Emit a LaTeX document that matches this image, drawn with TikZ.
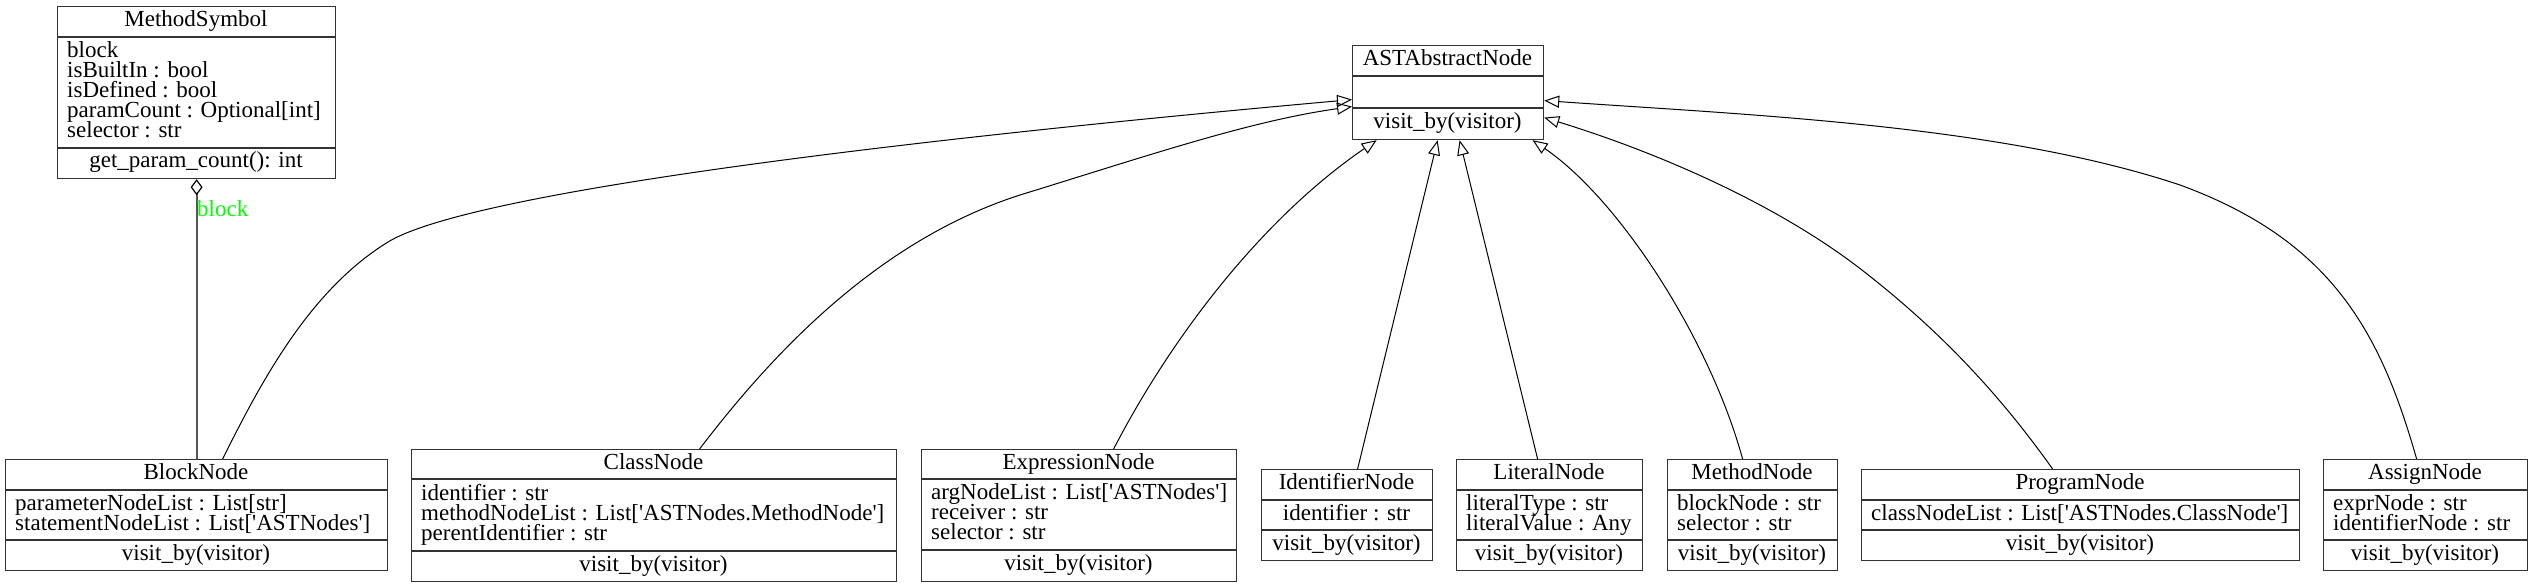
\documentclass[tikz,border=0pt]{standalone}
\usepackage{fontspec}
\setmainfont{Liberation Serif}[Ligatures=TeXOff]
\usetikzlibrary{arrows.meta}
\definecolor{boxc}{HTML}{333333}
\definecolor{aggc}{HTML}{555555}
\definecolor{lblgreen}{HTML}{00FF00}
\newcommand\sq{'}
\newcommand\umlbox[7]{%
  \node[classbox, anchor=north west, minimum width={#4-#2}, minimum height={#5-#3}] (#1) at (#2,#3) {};
  \draw[sepline] (#2,#6) -- (#4,#6);
  \draw[sepline] (#2,#7) -- (#4,#7);
}
\begin{document}
\begin{tikzpicture}[x=1pt,y=-1pt,
  classbox/.style={draw=boxc, line width=1.2pt, inner sep=0pt, fill=white},
  sepline/.style={draw=boxc, line width=1.2pt},
  txt/.style={inner sep=0pt, font=\fontsize{23}{20}\selectfont, text=black},
  inh/.style={draw=black, line width=1pt, -{Triangle[open, length=15pt, width=12pt]}},
  agg/.style={draw=aggc, line width=2pt, {Diamond[open, length=16pt, width=12pt, line width=1.2pt, color=black]}-},
  lbl/.style={inner sep=0pt, font=\fontsize{23}{20}\selectfont, text=lblgreen}
]
\fill[white] (0,0) rectangle (2534,588);
\useasboundingbox (0,0) rectangle (2534,588);

% MethodSymbol
\umlbox{ms}{57}{6}{335}{178}{37}{148}
\node[txt, anchor=base] (ms-t) at (196,27) {MethodSymbol};
\node[txt, anchor=base west] (ms-a1) at (67,57.5) {block};
\node[txt, anchor=base west] (ms-a2) at (67,77.5) {isBuiltIn : bool};
\node[txt, anchor=base west] (ms-a3) at (67,97.5) {isDefined : bool};
\node[txt, anchor=base west] (ms-a4) at (67,117.5) {paramCount : Optional[int]};
\node[txt, anchor=base west] (ms-a5) at (67,137.5) {selector : str};
\node[txt, anchor=base] (ms-m) at (196,168) {get\_param\_count(): int};

% ASTAbstractNode
\umlbox{ast}{1352}{45}{1543}{139}{76}{108}
\node[txt, anchor=base] (ast-t) at (1447.5,65.5) {ASTAbstractNode};
\node[txt, anchor=base] (ast-m) at (1447.5,128.5) {visit\_by(visitor)};

% BlockNode
\umlbox{blk}{5}{459}{387}{570}{490}{540}
\node[txt, anchor=base] (blk-t) at (196,479.5) {BlockNode};
\node[txt, anchor=base west] (blk-a1) at (15,510) {parameterNodeList : List[str]};
\node[txt, anchor=base west] (blk-a2) at (15,530) {statementNodeList : List[\sq ASTNodes\sq]};
\node[txt, anchor=base] (blk-m) at (196,560) {visit\_by(visitor)};

% ClassNode
\umlbox{cls}{411}{449}{896}{581}{479}{551}
\node[txt, anchor=base] (cls-t) at (653.5,469) {ClassNode};
\node[txt, anchor=base west] (cls-a1) at (421,500) {identifier : str};
\node[txt, anchor=base west] (cls-a2) at (421,520) {methodNodeList : List[\sq ASTNodes.MethodNode\sq]};
\node[txt, anchor=base west] (cls-a3) at (421,540) {perentIdentifier : str};
\node[txt, anchor=base] (cls-m) at (653.5,571) {visit\_by(visitor)};

% ExpressionNode
\umlbox{expr}{921}{449}{1236}{581}{479}{550}
\node[txt, anchor=base] (expr-t) at (1078.5,469) {ExpressionNode};
\node[txt, anchor=base west] (expr-a1) at (931,499.5) {argNodeList : List[\sq ASTNodes\sq]};
\node[txt, anchor=base west] (expr-a2) at (931,519.5) {receiver : str};
\node[txt, anchor=base west] (expr-a3) at (931,539.5) {selector : str};
\node[txt, anchor=base] (expr-m) at (1078.5,570.5) {visit\_by(visitor)};

% IdentifierNode
\umlbox{idn}{1261}{469}{1432}{560}{500}{530}
\node[txt, anchor=base] (idn-t) at (1346.5,489.5) {IdentifierNode};
\node[txt, anchor=base] (idn-a1) at (1346.5,520) {identifier : str};
\node[txt, anchor=base] (idn-m) at (1346.5,550) {visit\_by(visitor)};

% LiteralNode
\umlbox{lit}{1456}{459}{1642}{570}{490}{540}
\node[txt, anchor=base] (lit-t) at (1549,479.5) {LiteralNode};
\node[txt, anchor=base west] (lit-a1) at (1466,510) {literalType : str};
\node[txt, anchor=base west] (lit-a2) at (1466,530) {literalValue : Any};
\node[txt, anchor=base] (lit-m) at (1549,560) {visit\_by(visitor)};

% MethodNode
\umlbox{mth}{1667}{459}{1837}{570}{490}{540}
\node[txt, anchor=base] (mth-t) at (1752,479.5) {MethodNode};
\node[txt, anchor=base west] (mth-a1) at (1677,510) {blockNode : str};
\node[txt, anchor=base west] (mth-a2) at (1677,530) {selector : str};
\node[txt, anchor=base] (mth-m) at (1752,560) {visit\_by(visitor)};

% ProgramNode
\umlbox{prg}{1861}{469}{2299}{560}{500}{530}
\node[txt, anchor=base] (prg-t) at (2080,489.5) {ProgramNode};
\node[txt, anchor=base west] (prg-a1) at (1871,520) {classNodeList : List[\sq ASTNodes.ClassNode\sq]};
\node[txt, anchor=base] (prg-m) at (2080,550) {visit\_by(visitor)};

% AssignNode
\umlbox{asg}{2323}{459}{2527}{570}{490}{540}
\node[txt, anchor=base] (asg-t) at (2425,479.5) {AssignNode};
\node[txt, anchor=base west] (asg-a1) at (2333,510) {exprNode : str};
\node[txt, anchor=base west] (asg-a2) at (2333,530) {identifierNode : str};
\node[txt, anchor=base] (asg-m) at (2425,560) {visit\_by(visitor)};

% aggregation
\draw[agg] (ms.south) -- (blk.north);
\node[lbl, anchor=base west] (blocklbl) at (197,217) {block};

% inheritance
\draw[inh] ([xshift=26pt]blk.north) .. controls (262,380) and (310,290) .. (388,242)
  .. controls (470,192) and (900,140) .. ([yshift=-7pt]ast.west);
\draw[inh] ([xshift=45.5pt]cls.north) .. controls (775,350) and (880,240) .. (1020,195)
  .. controls (1150,155) and (1250,121) .. ([yshift=-14pt]ast.west);
\draw[inh] ([xshift=34.5pt]expr.north) .. controls (1170,340) and (1260,220) .. ([xshift=-71.5pt]ast.south);
\draw[inh] ([xshift=10.5pt]idn.north) -- ([xshift=-10.5pt]ast.south);
\draw[inh] ([xshift=-12pt]lit.north) -- ([xshift=11.5pt]ast.south);
\draw[inh] ([xshift=-10pt]mth.north) .. controls (1710,340) and (1620,200) .. ([xshift=84.5pt]ast.south);
\draw[inh] ([xshift=-28pt]prg.north) .. controls (2000,395) and (1940,330) .. (1858,267)
  .. controls (1770,200) and (1650,150) .. ([yshift=-25pt]ast.east);
\draw[inh] ([xshift=-9pt]asg.north) .. controls (2380,330) and (2330,240) .. (2180,185)
  .. controls (2000,125) and (1750,115) .. ([yshift=-8pt]ast.east);
\end{tikzpicture}
\end{document}
